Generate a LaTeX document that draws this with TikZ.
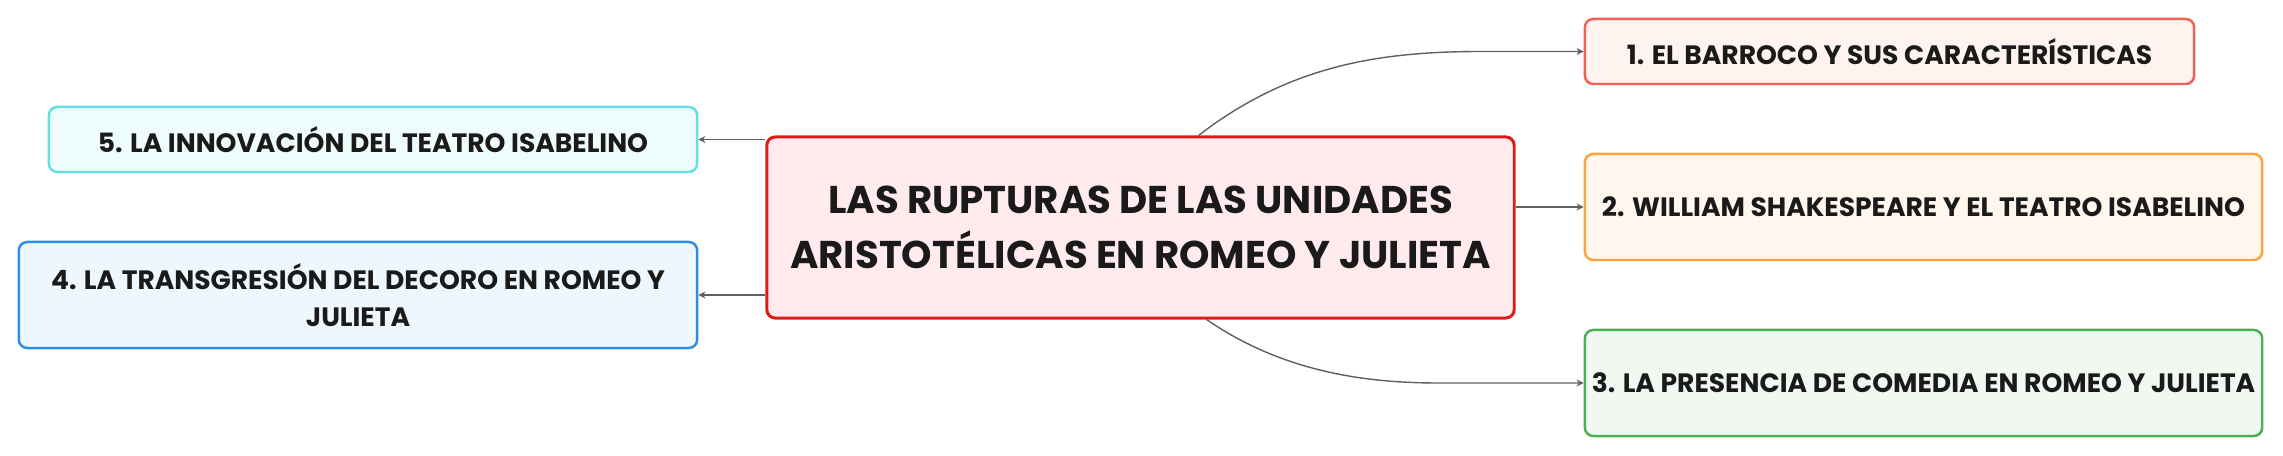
\documentclass[tikz,border=0pt]{standalone}
\usepackage{fontspec}
\setmainfont{Poppins}
\usetikzlibrary{arrows.meta, positioning}
\definecolor{centrered}{RGB}{217,30,24}
\definecolor{centrefill}{RGB}{255,235,237}
\definecolor{barrocored}{RGB}{242,96,82}
\definecolor{barrocofill}{RGB}{255,243,239}
\definecolor{teatroorange}{RGB}{255,162,62}
\definecolor{teatrofill}{RGB}{255,246,238}
\definecolor{comediagreen}{RGB}{76,175,80}
\definecolor{comediafill}{RGB}{241,248,242}
\definecolor{decoroblue}{RGB}{44,143,227}
\definecolor{decorofill}{RGB}{238,246,254}
\definecolor{innovcyan}{RGB}{98,224,226}
\definecolor{innovfill}{RGB}{239,252,252}
\definecolor{linkgray}{RGB}{95,95,95}
\definecolor{textdark}{RGB}{26,26,26}

\begin{document}
\begin{tikzpicture}[x=0.01cm, y=-0.01cm,
  topic/.style={draw, rounded corners=2.4pt, line width=0.7pt, align=center, inner sep=0pt,
    text=textdark, font=\bfseries\fontsize{7.55}{10.5}\selectfont},
  link/.style={draw=linkgray, line width=0.4pt, -{Stealth[length=2pt,width=2pt]}}]
\useasboundingbox (0,0) rectangle (2283,456);

% Central topic
\node[topic, draw=centrered, fill=centrefill, line width=0.85pt, minimum width=7.47cm, minimum height=1.81cm,
  font=\bfseries\fontsize{11}{15.6}\selectfont] (centre) at (1140.5,227.5)
  {LAS RUPTURAS DE LAS UNIDADES\\ARISTOTÉLICAS EN ROMEO Y JULIETA};

% Right branches
\node[topic, draw=barrocored, fill=barrocofill, minimum width=6.09cm, minimum height=0.65cm] (barroco) at (1889.5,51.5)
  {1. EL BARROCO Y SUS CARACTERÍSTICAS};
\node[topic, draw=teatroorange, fill=teatrofill, minimum width=6.77cm, minimum height=1.06cm] (shakespeare) at (1923.5,207)
  {2. WILLIAM SHAKESPEARE Y EL TEATRO ISABELINO};
\node[topic, draw=comediagreen, fill=comediafill, minimum width=6.77cm, minimum height=1.06cm] (comedia) at (1923.5,383)
  {3. LA PRESENCIA DE COMEDIA EN ROMEO Y JULIETA};

% Left branches
\node[topic, draw=decoroblue, fill=decorofill, minimum width=6.78cm, minimum height=1.06cm] (decoro) at (358,295)
  {4. LA TRANSGRESIÓN DEL DECORO EN ROMEO Y\\JULIETA};
\node[topic, draw=innovcyan, fill=innovfill, minimum width=6.48cm, minimum height=0.65cm] (innovacion) at (373,139.5)
  {5. LA INNOVACIÓN DEL TEATRO ISABELINO};

% Connectors
\coordinate (bendup) at (1482,51.5);
\coordinate (benddown) at (1438,383);
\draw[link] ([xshift=0.58cm]centre.north) .. controls (1290,65) and (1380,51.5) .. (bendup) -- (barroco.west);
\draw[link] (centre.east |- shakespeare.west) -- (shakespeare.west);
\draw[link] ([xshift=0.66cm]centre.south) .. controls (1280,370) and (1360,383) .. (benddown) -- (comedia.west);
\draw[link] (centre.west |- decoro.east) -- (decoro.east);
\draw[link] (centre.west |- innovacion.east) -- (innovacion.east);
\end{tikzpicture}
\end{document}
